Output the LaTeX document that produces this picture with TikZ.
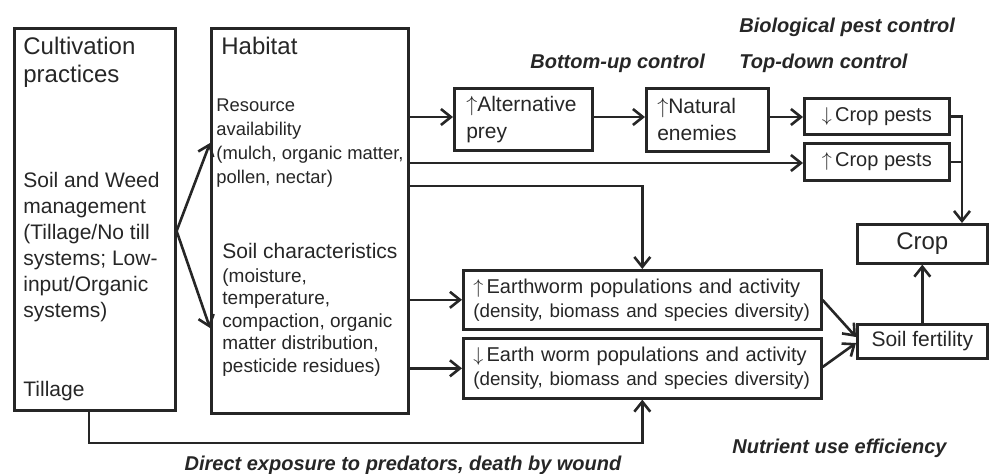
\documentclass[tikz,border=0pt]{standalone}
\usepackage{fontspec}
\setmainfont{Liberation Sans}
\usetikzlibrary{arrows.meta}
\definecolor{ink}{HTML}{262626}

\begin{document}
\begin{tikzpicture}[x=0.5pt,y=-0.5pt,
    box/.style={draw=ink, text=ink, line width=1.3pt, inner sep=0pt, anchor=north west},
    txt/.style={text=ink, inner sep=0pt, anchor=base west, align=left},
    lbl/.style={text=ink, inner sep=0pt, anchor=base west, font=\fontsize{10}{12}\selectfont\bfseries\itshape},
    link/.style={draw=ink, line width=1.3pt},
    arr/.style={link, -{Straight Barb[length=5pt,width=8pt]}}]
    \useasboundingbox (0,0) rectangle (989,473);

    % Cultivation practices (base = last line)
    \node[box, minimum width=80.5pt, minimum height=191pt] (cult) at (13,27) {};
    \node[txt, font=\fontsize{12}{14}\selectfont] (cultT) at (23,82) {Cultivation\\practices};
    \node[txt, font=\fontsize{10.5}{13}\selectfont] (mgmt) at (23,317)
        {Soil and Weed\\management\\(Tillage/No till\\systems; Low-\\input/Organic\\systems)};
    \node[txt, font=\fontsize{10.5}{13}\selectfont] (till) at (23,396) {Tillage};

    % Habitat
    \node[box, minimum width=98.5pt, minimum height=192.5pt] (hab) at (210,27) {};
    \node[txt, font=\fontsize{12}{14}\selectfont] (habT) at (221,54) {Habitat};
    \node[txt, font=\fontsize{9.2}{12}\selectfont] (rsrc) at (216,183)
        {Resource\\availability\\(mulch, organic matter,\\pollen, nectar)};
    \node[txt, font=\fontsize{10.5}{12}\selectfont] (soilT) at (222,258) {Soil characteristics};
    \node[txt, font=\fontsize{9.5}{11.25}\selectfont] (soilL) at (222,372)
        {(moisture,\\temperature,\\compaction, organic\\matter distribution,\\pesticide residues)};

    % Biological pest control
    \node[box, minimum height=31pt, text width=57pt, inner xsep=6pt, align=left,
        font=\fontsize{10.5}{13.5}\selectfont] (alt) at (453,87) {$\uparrow$Alternative\\prey};
    \node[box, minimum height=31.5pt, text width=50pt, inner xsep=5.5pt, align=left,
        font=\fontsize{10.5}{13.5}\selectfont] (nat) at (645,87) {$\uparrow$Natural\\enemies};
    \node[box, minimum width=72.5pt, minimum height=18pt, font=\fontsize{10}{12}\selectfont] (pdown) at (803,97) {$\downarrow$\,Crop pests};
    \node[box, minimum width=72.5pt, minimum height=18.5pt, font=\fontsize{10}{12}\selectfont] (pup) at (803,142) {$\uparrow$\,Crop pests};
    \node[box, minimum width=65pt, minimum height=19.5pt, font=\fontsize{12}{14}\selectfont] (crop) at (856,223) {Crop};

    % Earthworms and soil fertility
    \node[box, minimum height=29.5pt, text width=169pt, inner xsep=5pt, align=left,
        font=\fontsize{10}{12}\selectfont] (ewup) at (462,269)
        {$\uparrow$\,Earthworm populations and activity\\{\fontsize{9.4}{12}\selectfont(density, biomass and species diversity)}};
    \node[box, minimum height=30pt, text width=169pt, inner xsep=5pt, align=left,
        font=\fontsize{10}{12}\selectfont] (ewdn) at (462,337)
        {$\downarrow$\,Earth worm populations and activity\\{\fontsize{9.4}{12}\selectfont(density, biomass and species diversity)}};
    \node[box, minimum width=65pt, minimum height=17pt, font=\fontsize{10.5}{12}\selectfont] (fert) at (856,323) {Soil fertility};

    % labels
    \node[lbl] (bio) at (739,32) {Biological pest control};
    \node[lbl] (bottom) at (530,68) {Bottom-up control};
    \node[lbl] (topdown) at (739,68) {Top-down control};
    \node[lbl] (nue) at (732,453) {Nutrient use efficiency};
    \node[lbl, anchor=base] (direct) at (403,470) {Direct exposure to predators, death by wound};

    % connectors
    \draw[arr] (cult.east |- 0,231) -- (hab.west |- 0,143);
    \draw[arr] (cult.east |- 0,231) -- (hab.west |- 0,328);
    \draw[arr] (hab.east |- 0,117) -- (alt.west |- 0,117);
    \draw[arr] (alt.east |- 0,117) -- (nat.west |- 0,117);
    \draw[arr] (nat.east |- 0,117) -- (pdown.west |- 0,117);
    \draw[arr] (hab.east |- 0,163) -- (pup.west |- 0,163);
    \draw[arr] (hab.east |- 0,186) -| (ewup.north);
    \draw[arr] (hab.east |- ewup.west) -- (ewup.west);
    \draw[arr] (hab.east |- ewdn.west) -- (ewdn.west);
    \draw[arr] (pdown.east) -| (962,0 |- crop.north);
    \draw[link] (pup.east) -- (962,0 |- pup.east);
    \draw[arr] (ewup.east |- 0,300) -- (fert.west |- 0,337);
    \draw[arr] (ewdn.east |- 0,367) -- (fert.west |- 0,343);
    \draw[arr] (fert.north) -- (crop.south);
    \draw[arr] (cult.south -| 89,0) -- (89,443) -| (ewdn.south);
\end{tikzpicture}
\end{document}
